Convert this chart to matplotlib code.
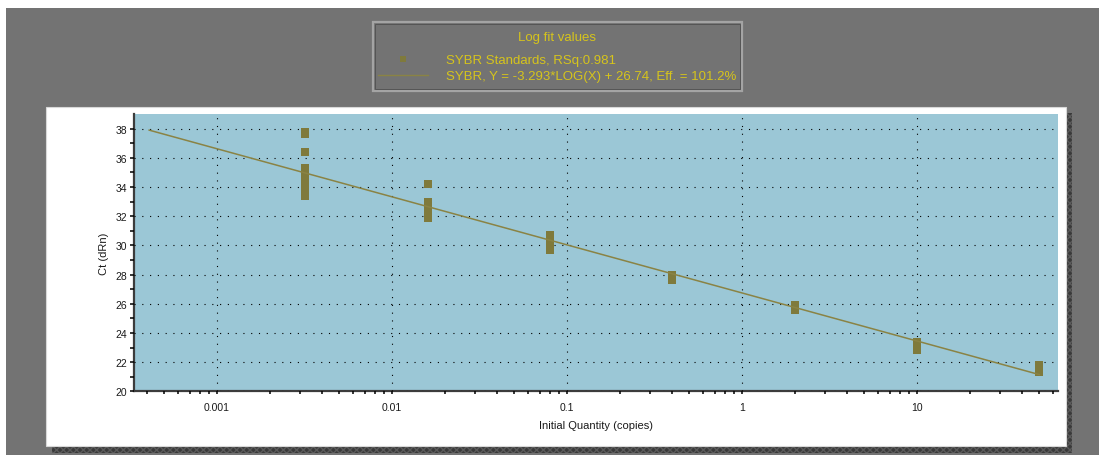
import matplotlib.pyplot as plt
import numpy as np
from matplotlib.patches import Rectangle
from matplotlib.lines import Line2D

plt.rcParams['font.family'] = ['Liberation Sans', 'DejaVu Sans']

# standard curve: 5-fold dilutions and their Ct replicates
quantities = [0.0032, 0.016, 0.08, 0.4, 2, 10, 50]
ct_values = [
    [37.8, 37.6, 36.4, 35.3, 34.9, 34.5, 34.1, 33.8, 33.4],
    [34.2, 33.0, 32.6, 32.2, 31.9],
    [30.7, 30.4, 30.0, 29.7],
    [28.0, 27.8, 27.6],
    [25.9, 25.6],
    [23.4, 23.1, 22.8],
    [21.8, 21.5, 21.3],
]
slope = -3.293
intercept = 26.74
rsq = 0.981
efficiency = 101.2
fit_range = [0.00041, 50]

W, H = 1099, 456
bg_gray = '#737373'
plot_blue = '#9bc7d6'
point_col = '#7f7a3c'
fit_col = '#8a8344'
legend_txt = '#d6c41c'


def fx(px):
    return px / W


def fy(py):
    return 1 - py / H


fig = plt.figure(figsize=(W / 100, H / 100), dpi=100, facecolor='white')

# window background, white panel and its dithered drop shadow
fig.patches.append(Rectangle((fx(6), 0), 1 - fx(6), fy(9), transform=fig.transFigure,
                             facecolor=bg_gray, edgecolor='none', zorder=0))
fig.patches.append(Rectangle((fx(52), fy(454)), fx(1072 - 52), fy(114) - fy(454),
                             transform=fig.transFigure, facecolor='#3a3a3a',
                             edgecolor='#5a5a5a', hatch='xxxxx', linewidth=0, zorder=1))
fig.patches.append(Rectangle((fx(46), fy(447)), fx(1066 - 46), fy(108) - fy(447),
                             transform=fig.transFigure, facecolor='white',
                             edgecolor='#d8d8d8', linewidth=0.8, zorder=2))

# legend box
fig.patches.append(Rectangle((fx(373), fy(92)), fx(742 - 373), fy(23) - fy(92),
                             transform=fig.transFigure, facecolor=bg_gray,
                             edgecolor='#a4a4a4', linewidth=1.6, zorder=3))
fig.patches.append(Rectangle((fx(375), fy(90)), fx(740 - 375), fy(25) - fy(90),
                             transform=fig.transFigure, facecolor='none',
                             edgecolor='#555555', linewidth=0.7, zorder=3))
fig.text(fx(557), fy(38), 'Log fit values', color=legend_txt, fontsize=9.5,
         ha='center', va='center', zorder=4)
fig.text(fx(446), fy(61), 'SYBR Standards, RSq:%.3f' % rsq, color=legend_txt,
         fontsize=9.5, ha='left', va='center', zorder=4)
fig.text(fx(446), fy(77),
         'SYBR, Y = %.3f*LOG(X) + %.2f, Eff. = %.1f%%' % (slope, intercept, efficiency),
         color=legend_txt, fontsize=9.5, ha='left', va='center', zorder=4)
fig.lines.append(Line2D([fx(403)], [fy(60)], transform=fig.transFigure, marker='s',
                        markersize=5, markeredgewidth=0, color=point_col, zorder=4))
fig.lines.append(Line2D([fx(378), fx(428)], [fy(76), fy(76)], transform=fig.transFigure,
                        color=fit_col, linewidth=1.0, zorder=4))

ax = fig.add_axes([fx(134.3), fy(392.3), fx(1058.3 - 134.3), fy(115) - fy(392.3)])
ax.set_zorder(5)
ax.set_facecolor(plot_blue)

for q, cts in zip(quantities, ct_values):
    ax.plot([q] * len(cts), cts, linestyle='none', marker='s', markersize=5.8,
            markeredgewidth=0, color=point_col, zorder=3)

fit_x = np.array(fit_range)
fit_y = slope * np.log10(fit_x) + intercept
ax.plot(fit_x, fit_y, color=fit_col, linewidth=1.1, zorder=4)

ax.set_xscale('log')
ax.set_xlim(3.37e-4, 64.2)
ax.set_ylim(20, 39)

ax.set_xticks([0.001, 0.01, 0.1, 1, 10])
ax.set_xticklabels(['0.001', '0.01', '0.1', '1', '10'])
ax.set_xticks([m * 10.0 ** e for e in range(-4, 2) for m in range(2, 10)
               if 3.37e-4 < m * 10.0 ** e < 64.2], minor=True)
ax.set_xticklabels([], minor=True)
ax.set_yticks(np.arange(20, 39, 2))
ax.set_yticks(np.arange(21, 39, 2), minor=True)

ax.grid(True, which='major', color='black', linestyle=(0, (1, 6)), linewidth=0.8)
ax.set_axisbelow(False)

for side in ['top', 'right']:
    ax.spines[side].set_visible(False)
for side in ['left', 'bottom']:
    ax.spines[side].set_color('#3c3c3c')
    ax.spines[side].set_linewidth(1.6)

ax.tick_params(which='both', direction='out', color='black', width=1.1,
               labelsize=7.5, labelcolor='#1a1a1a')
ax.tick_params(axis='y', which='both', length=3, pad=2)
ax.tick_params(axis='x', which='both', length=2.5, pad=5)

ax.set_ylabel('Ct (dRn)', fontsize=8, color='#1a1a1a')
ax.set_xlabel('Initial Quantity (copies)', fontsize=8, color='#1a1a1a')
ax.yaxis.set_label_coords(-0.027, 0.5)
ax.xaxis.set_label_coords(0.5, -0.105)

plt.savefig('out.png', dpi=100, facecolor=fig.get_facecolor())
